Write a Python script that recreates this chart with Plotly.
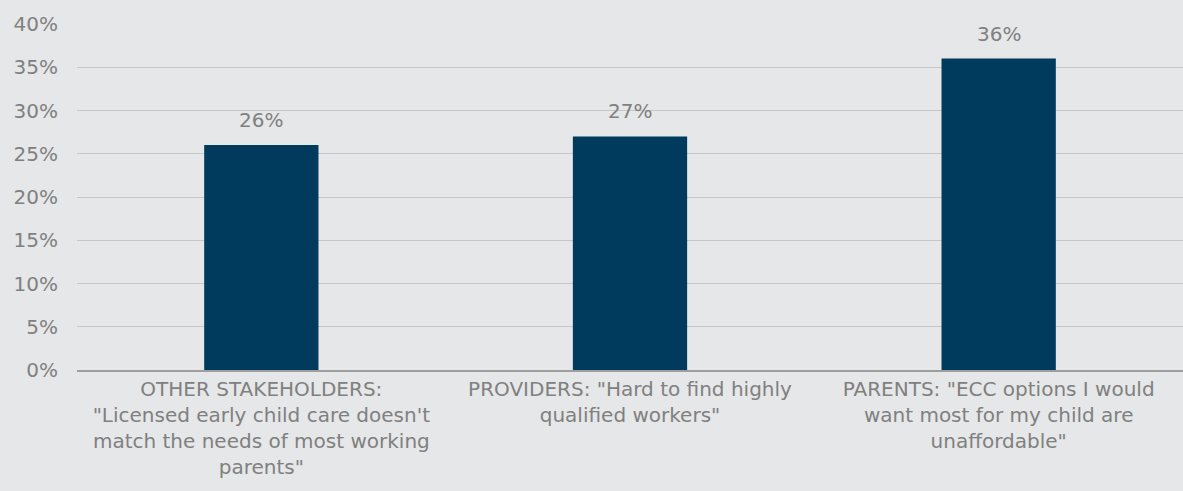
import plotly.graph_objects as go

categories = [
    "OTHER STAKEHOLDERS:<br>\"Licensed early child care doesn't<br>match the needs of most working<br>parents\"",
    "PROVIDERS: \"Hard to find highly<br>qualified workers\"",
    "PARENTS: \"ECC options I would<br>want most for my child are<br>unaffordable\"",
]
values = [0.26, 0.27, 0.36]
value_labels = ["26%", "27%", "36%"]
tick_vals = [0, 0.05, 0.10, 0.15, 0.20, 0.25, 0.30, 0.35, 0.40]
tick_text = ["0%", "5%", "10%", "15%", "20%", "25%", "30%", "35%", "40%"]

BG = "#E6E7E8"
BAR = "#003A5D"
TXT = "#808080"
FONT = "DejaVu Sans, Arial, sans-serif"
FS = 20

fig = go.Figure()
fig.add_trace(go.Bar(
    x=categories, y=values,
    marker=dict(color=BAR, line=dict(width=0)),
    width=0.31,
    hoverinfo="skip",
))

for c, v, t in zip(categories, values, value_labels):
    fig.add_annotation(x=c, y=v, text=t, showarrow=False, yanchor="bottom",
                       yshift=11, font=dict(family=FONT, size=FS, color=TXT))

fig.update_layout(
    width=1183, height=491,
    margin=dict(l=77, r=0, t=24, b=121),
    paper_bgcolor=BG, plot_bgcolor=BG,
    font=dict(family=FONT, size=FS, color=TXT),
    showlegend=False,
)
fig.update_yaxes(
    range=[0, 0.40], tickvals=tick_vals, ticktext=tick_text,
    showgrid=True, gridcolor="#C6C6C6", gridwidth=1,
    zeroline=False, showline=False,
    ticklabelstandoff=18,
    tickfont=dict(family=FONT, size=FS, color=TXT),
)
fig.update_xaxes(
    showline=True, linecolor="#9E9E9E", linewidth=1.5,
    showgrid=False, ticks="",
    tickfont=dict(family=FONT, size=FS, color=TXT),
    tickangle=0,
)

fig.write_html(
    "out.html",
    config={"displayModeBar": False},
    post_script="document.body.style.margin='0';document.body.style.overflow='hidden';",
)
